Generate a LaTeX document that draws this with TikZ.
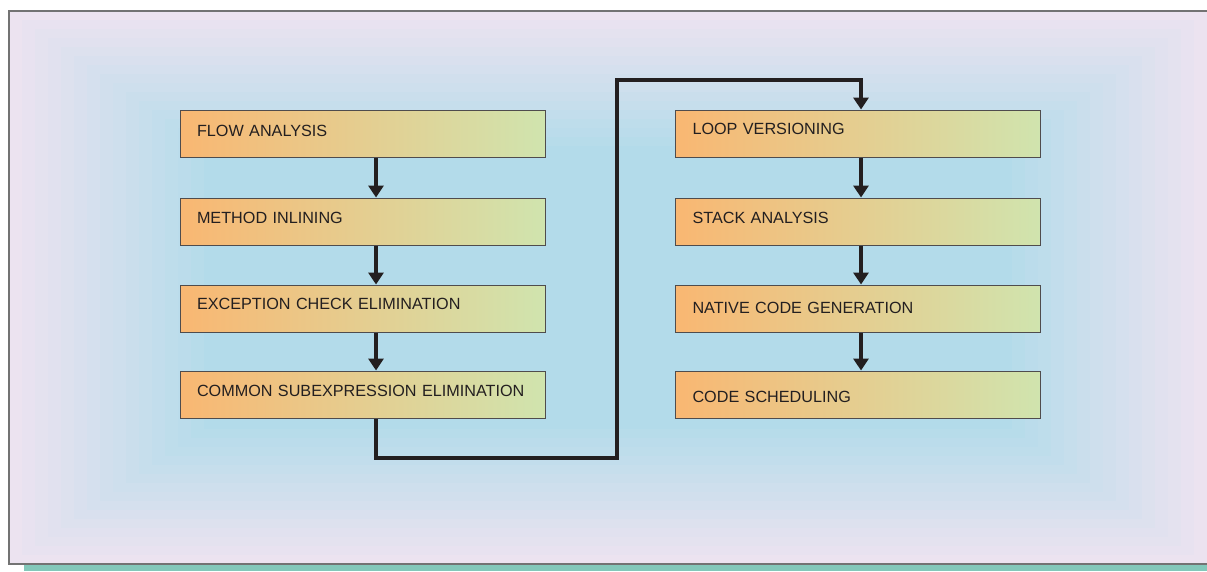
\documentclass[tikz,border=0pt]{standalone}
\usepackage{fontspec}
\setmainfont{Liberation Sans}
\usetikzlibrary{arrows.meta}
\definecolor{lav}{HTML}{ECE3F0}
\definecolor{sky}{HTML}{B3DBEA}
\definecolor{boxorange}{HTML}{F9B772}
\definecolor{boxmid}{HTML}{E6CD8E}
\definecolor{boxgreen}{HTML}{D0E4AE}
\definecolor{ink}{HTML}{231F20}
\definecolor{teal}{HTML}{83C8BA}
\begin{document}
\begin{tikzpicture}[x=1pt,y=-1pt,
  stagebox/.style={rectangle, draw=ink!80, line width=1pt,
    left color=boxorange, middle color=boxmid, right color=boxgreen,
    minimum width=365pt, minimum height=47pt, text width=331pt,
    inner xsep=17pt, inner ysep=0pt, align=left,
    font=\fontsize{16.2}{18}\selectfont, text=ink,
    text height=11.6pt, text depth=0pt},
  arr/.style={draw=ink, line width=4pt, -{Triangle[length=12pt,width=15pt]}}]
\useasboundingbox (0,0) rectangle (1207,571);
% background bands
\foreach \i in {0,...,15}{
  \pgfmathsetmacro{\p}{\i/15*100}
  \fill[sky!\p!lav] (9+\i*13,11+\i*9) rectangle (1207-\i*13,564-\i*9);
}
\draw[gray!90!black, line width=1.5pt] (1207,11) -- (9,11) -- (9,564) -- (1207,564);
\fill[teal] (24,565) rectangle (1207,571);
% stages
\node[stagebox, text depth=5pt] (f1) at (362.5,133.5) {FLOW ANALYSIS};
\node[stagebox, text depth=7pt] (f2) at (362.5,221.5) {METHOD INLINING};
\node[stagebox, text depth=10pt] (f3) at (362.5,308.5) {EXCEPTION CHECK ELIMINATION};
\node[stagebox, text depth=8pt] (f4) at (362.5,394.5) {COMMON SUBEXPRESSION ELIMINATION};
\node[stagebox, text depth=9.5pt] (r1) at (858,133.5) {LOOP VERSIONING};
\node[stagebox, text depth=8pt] (r2) at (858,221.5) {STACK ANALYSIS};
\node[stagebox, text depth=2pt] (r3) at (858,308.5) {NATIVE CODE GENERATION};
\node[stagebox, text height=15.6pt] (r4) at (858,394.5) {CODE SCHEDULING};
% arrows
\draw[arr] ([xshift=13.5pt]f1.south) -- ([xshift=13.5pt]f2.north);
\draw[arr] ([xshift=13.5pt]f2.south) -- ([xshift=13.5pt]f3.north);
\draw[arr] ([xshift=13.5pt]f3.south) -- ([xshift=13.5pt]f4.north);
\draw[arr] ([xshift=3pt]r1.south) -- ([xshift=3pt]r2.north);
\draw[arr] ([xshift=3pt]r2.south) -- ([xshift=3pt]r3.north);
\draw[arr] ([xshift=3pt]r3.south) -- ([xshift=3pt]r4.north);
\coordinate (turn) at (617,80);
\draw[arr] ([xshift=13.5pt]f4.south) -- ++(0,39) -| (turn) -| ([xshift=3pt]r1.north);
\end{tikzpicture}
\end{document}
